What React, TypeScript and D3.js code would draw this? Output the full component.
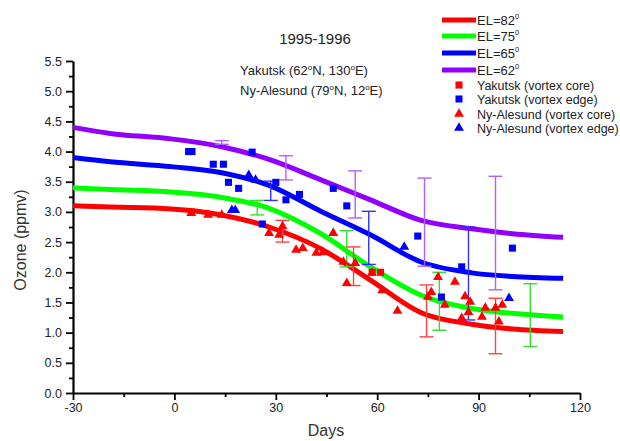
import React, { useEffect, useRef } from "react";
import * as d3 from "d3";

// fitted curves (days vs ozone ppmv)
const curveDays = [-30, -19, -1, 14, 28, 43, 58, 73, 88, 100, 115];
const el82 = [3.1, 3.08, 3.05, 2.95, 2.75, 2.4, 1.87, 1.33, 1.14, 1.06, 1.02];
const el75 = [3.4, 3.37, 3.33, 3.24, 3.06, 2.65, 2.09, 1.62, 1.4, 1.32, 1.26];
const el65 = [3.9, 3.83, 3.75, 3.65, 3.44, 3.02, 2.62, 2.17, 1.99, 1.93, 1.9];
const el62 = [4.4, 4.3, 4.21, 4.08, 3.87, 3.54, 3.2, 2.86, 2.72, 2.64, 2.58];

// Yakutsk (vortex core)
const yakCoreDays = [5, 58.5, 61];
const yakCoreVals = [3.0, 2.0, 2.0];

// Yakutsk (vortex edge)
const yakEdgeDays = [4.2, 5.2, 11.5, 14.5, 16, 19, 23, 26, 30, 33, 37, 47, 51, 72, 79, 85, 100];
const yakEdgeVals = [4.0, 4.0, 3.79, 3.79, 3.49, 3.39, 3.99, 2.8, 3.49, 3.2, 3.29, 3.39, 3.1, 2.6, 1.59, 2.09, 2.4];

// Ny-Alesund (vortex core)
const nyCoreDays = [5, 10, 14, 28, 31, 32, 36, 38, 42, 44, 47, 50, 51, 53.5, 58.5, 61.5, 66, 75, 76, 78, 80, 83, 86, 87.5, 85, 87, 91, 92, 95, 97, 96];
const nyCoreVals = [2.98, 2.95, 2.95, 2.65, 2.62, 2.76, 2.37, 2.4, 2.32, 2.33, 2.65, 2.17, 1.82, 2.15, 1.99, 1.7, 1.36, 1.59, 1.67, 1.92, 1.46, 1.84, 1.6, 1.51, 1.24, 1.34, 1.26, 1.41, 1.41, 1.46, 1.18];

// Ny-Alesund (vortex edge)
const nyEdgeDays = [17, 18, 22, 24, 68, 99];
const nyEdgeVals = [3.03, 3.03, 3.61, 3.53, 2.42, 1.57];

// error bars: day, centre, half-width
const errPurple = [[14, 4.15, 0.03], [33, 3.73, 0.2], [53.5, 3.29, 0.39], [74, 2.83, 0.73], [95, 2.65, 0.94]];
const errBlue = [[28.5, 3.35, 0.16], [57.5, 2.57, 0.44], [87, 1.98, 0.77]];
const errGreen = [[24.5, 3.07, 0.12], [51, 2.39, 0.3], [78.4, 1.52, 0.48], [105.3, 1.29, 0.52]];
const errRed = [[32, 2.68, 0.18], [53, 2.1, 0.32], [74.6, 1.36, 0.43], [95, 1.11, 0.46]];

const xTicks = [-30, 0, 30, 60, 90, 120];
const yTicks = [0, 0.5, 1, 1.5, 2, 2.5, 3, 3.5, 4, 4.5, 5, 5.5];

const RED = "#ff0000";
const GREEN = "#00ff00";
const BLUE = "#0000ff";
const PURPLE = "#9000ff";
const FONT = "'Liberation Sans', Arial, sans-serif";

const App = () => {
  const ref = useRef<SVGSVGElement>(null);

  useEffect(() => {
    const svg = d3.select(ref.current);
    svg.selectAll("*").remove();

    const x = d3.scaleLinear().domain([-30, 120]).range([73, 580]);
    const y = d3.scaleLinear().domain([0, 5.5]).range([393, 61]);

    // axes
    const xAxis = svg.append("g").attr("transform", "translate(0,393)");
    xAxis
      .call(d3.axisBottom(x).tickValues(d3.range(-15, 120, 30)).tickSize(4).tickSizeOuter(0).tickFormat(() => ""))
      .call((g) => g.select(".domain").remove());
    xAxis
      .append("g")
      .call(d3.axisBottom(x).tickValues(xTicks).tickSize(7).tickPadding(3).tickSizeOuter(0).tickFormat((d) => String(d)));

    const yAxis = svg.append("g").attr("transform", "translate(73,0)");
    yAxis
      .call(d3.axisLeft(y).tickValues(d3.range(0.25, 5.5, 0.5)).tickSize(4).tickSizeOuter(0).tickFormat(() => ""))
      .call((g) => g.select(".domain").remove());
    yAxis
      .append("g")
      .call(d3.axisLeft(y).tickValues(yTicks).tickSize(7).tickPadding(4).tickSizeOuter(0).tickFormat(d3.format(".1f")));

    svg.selectAll(".domain").attr("stroke", "#000").attr("stroke-width", 2.2);
    svg.selectAll(".tick line").attr("stroke", "#000").attr("stroke-width", 1.8);
    svg
      .selectAll(".tick text")
      .attr("font-family", FONT)
      .attr("font-size", 12.5)
      .attr("fill", "#222");

    // fitted curves
    const line = d3
      .line<number>()
      .x((d, i) => x(curveDays[i]))
      .y((d) => y(d))
      .curve(d3.curveMonotoneX);

    [
      [el62, PURPLE],
      [el65, BLUE],
      [el75, GREEN],
      [el82, RED],
    ].forEach(([vals, color]) => {
      svg
        .append("path")
        .attr("d", line(vals as number[]))
        .attr("fill", "none")
        .attr("stroke", color as string)
        .attr("stroke-width", 5);
    });

    // error bars
    const errGroups: [number[][], string][] = [
      [errPurple, "#b060ff"],
      [errBlue, "#3030ff"],
      [errGreen, "#30e030"],
      [errRed, "#ff4040"],
    ];
    errGroups.forEach(([rows, color]) => {
      rows.forEach(([d, c, e]) => {
        const g = svg.append("g").attr("stroke", color).attr("stroke-width", 1.4);
        g.append("line").attr("x1", x(d)).attr("x2", x(d)).attr("y1", y(c - e)).attr("y2", y(c + e));
        [c - e, c + e].forEach((v) => {
          g.append("line").attr("x1", x(d) - 7).attr("x2", x(d) + 7).attr("y1", y(v)).attr("y2", y(v));
        });
      });
    });

    // markers
    const square = d3.symbol(d3.symbolSquare, 50);
    const triangle = d3.symbol(d3.symbolTriangle, 42);

    const drawPts = (days: number[], vals: number[], sym: any, color: string) => {
      svg
        .append("g")
        .selectAll("path")
        .data(days)
        .enter()
        .append("path")
        .attr("d", sym)
        .attr("transform", (d, i) => `translate(${x(d)},${y(vals[i])})`)
        .attr("fill", color);
    };
    drawPts(yakEdgeDays, yakEdgeVals, square, BLUE);
    drawPts(yakCoreDays, yakCoreVals, square, RED);
    drawPts(nyCoreDays, nyCoreVals, triangle, RED);
    drawPts(nyEdgeDays, nyEdgeVals, triangle, BLUE);

    // titles
    svg
      .append("text")
      .attr("x", 315)
      .attr("y", 44)
      .attr("text-anchor", "middle")
      .attr("font-family", FONT)
      .attr("font-size", 15)
      .attr("fill", "#222")
      .text("1995-1996");

    const place = (ty: number, parts: string[]) => {
      const t = svg
        .append("text")
        .attr("x", 240)
        .attr("y", ty)
        .attr("font-family", FONT)
        .attr("font-size", 13)
        .attr("fill", "#222");
      t.append("tspan").text(parts[0]);
      t.append("tspan").attr("dy", -5).attr("font-size", 8).text("o");
      t.append("tspan").attr("dy", 5).text(parts[1]);
      t.append("tspan").attr("dy", -5).attr("font-size", 8).text("o");
      t.append("tspan").attr("dy", 5).text(parts[2]);
    };
    place(75, ["Yakutsk (62", "N, 130", "E)"]);
    place(95, ["Ny-Alesund (79", "N, 12", "E)"]);

    // axis labels
    svg
      .append("text")
      .attr("transform", "translate(26,240) rotate(-90)")
      .attr("text-anchor", "middle")
      .attr("font-family", FONT)
      .attr("font-size", 16)
      .attr("fill", "#333")
      .text("Ozone (ppmv)");
    svg
      .append("text")
      .attr("x", 326)
      .attr("y", 436)
      .attr("text-anchor", "middle")
      .attr("font-family", FONT)
      .attr("font-size", 16)
      .attr("fill", "#333")
      .text("Days");

    // legend
    const legLines = [
      ["82", RED, 20],
      ["75", GREEN, 36],
      ["65", BLUE, 53],
      ["62", PURPLE, 70],
    ];
    legLines.forEach(([lab, color, ly]) => {
      svg
        .append("line")
        .attr("x1", 442)
        .attr("x2", 476)
        .attr("y1", ly as number)
        .attr("y2", ly as number)
        .attr("stroke", color as string)
        .attr("stroke-width", 5);
      const t = svg
        .append("text")
        .attr("x", 477)
        .attr("y", (ly as number) + 5)
        .attr("font-family", FONT)
        .attr("font-size", 13)
        .attr("fill", "#222");
      t.append("tspan").text(`EL=${lab}`);
      t.append("tspan").attr("dy", -6).attr("font-size", 7.5).text("0");
    });

    const legMarks = [
      ["Yakutsk (vortex core)", square, RED, 85],
      ["Yakutsk (vortex edge)", square, BLUE, 99],
      ["Ny-Alesund (vortex core)", triangle, RED, 114],
      ["Ny-Alesund (vortex edge)", triangle, BLUE, 128],
    ];
    legMarks.forEach(([lab, sym, color, ly]) => {
      svg
        .append("path")
        .attr("d", sym as any)
        .attr("transform", `translate(459,${ly})`)
        .attr("fill", color as string);
      svg
        .append("text")
        .attr("x", 477)
        .attr("y", (ly as number) + 4.5)
        .attr("font-family", FONT)
        .attr("font-size", 12.5)
        .attr("fill", "#222")
        .text(lab as string);
    });
  }, []);

  return (
    <svg
      ref={ref}
      width={620}
      height={441}
      style={{ position: "absolute", left: 0, top: 0, background: "#fff" }}
    />
  );
};

export default App;
